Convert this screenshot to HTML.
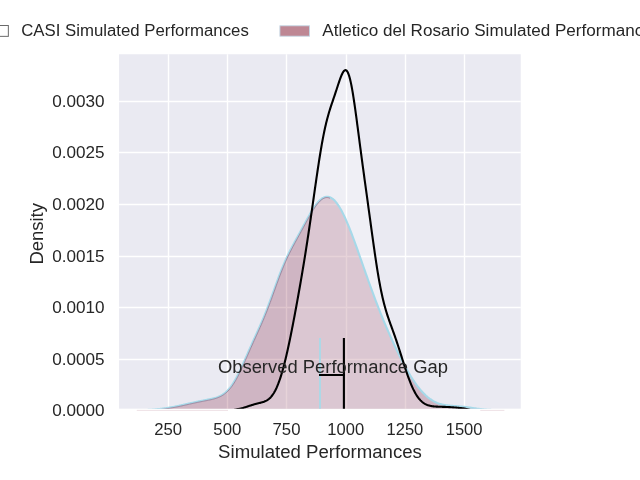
<!DOCTYPE html>
<html lang="en"><head><meta charset="utf-8"><title>Simulated Performances</title>
<style>html,body{margin:0;padding:0;background:#ffffff;}body{width:640px;height:480px;overflow:hidden;font-family:"Liberation Sans",sans-serif;}svg{display:block;will-change:transform;}text{font-family:"Liberation Sans",sans-serif;fill:#262626;}</style></head><body>
<svg width="640" height="480" viewBox="0 0 640 480">
<defs><clipPath id="ax"><rect x="119.06" y="54.25" width="401.69" height="354.40"/></clipPath></defs>
<rect x="0" y="0" width="640" height="480" fill="#ffffff"/>
<rect x="119.06" y="54.25" width="401.69" height="354.40" fill="#eaeaf2"/>
<g clip-path="url(#ax)">
<g stroke="#ffffff" stroke-width="1.4" fill="none"><line x1="168.5" y1="50" x2="168.5" y2="412"/><line x1="227.5" y1="50" x2="227.5" y2="412"/><line x1="286.5" y1="50" x2="286.5" y2="412"/><line x1="346.5" y1="50" x2="346.5" y2="412"/><line x1="405.5" y1="50" x2="405.5" y2="412"/><line x1="464.5" y1="50" x2="464.5" y2="412"/><line x1="115" y1="359.5" x2="525" y2="359.5"/><line x1="115" y1="307.5" x2="525" y2="307.5"/><line x1="115" y1="256.5" x2="525" y2="256.5"/><line x1="115" y1="204.5" x2="525" y2="204.5"/><line x1="115" y1="152.5" x2="525" y2="152.5"/><line x1="115" y1="101.5" x2="525" y2="101.5"/></g>
<path d="M137.02,411.04 L137.76,411.03 L138.50,411.01 L139.24,410.99 L139.97,410.96 L140.71,410.94 L141.45,410.91 L142.19,410.89 L142.92,410.86 L143.66,410.83 L144.40,410.80 L145.14,410.76 L145.87,410.73 L146.61,410.69 L147.35,410.65 L148.09,410.61 L148.83,410.57 L149.57,410.52 L150.30,410.48 L151.04,410.43 L151.78,410.37 L152.52,410.32 L153.26,410.26 L154.00,410.20 L154.74,410.14 L155.48,410.08 L156.21,410.01 L156.95,409.94 L157.69,409.87 L158.43,409.79 L159.17,409.71 L159.91,409.63 L160.65,409.54 L161.39,409.46 L162.13,409.37 L162.87,409.27 L163.61,409.17 L164.35,409.07 L165.09,408.97 L165.83,408.86 L166.57,408.75 L167.31,408.64 L168.05,408.53 L168.79,408.41 L169.53,408.29 L170.26,408.16 L171.00,408.03 L171.74,407.90 L172.48,407.77 L173.22,407.63 L173.96,407.49 L174.70,407.35 L175.44,407.21 L176.18,407.06 L176.91,406.91 L177.65,406.76 L178.39,406.61 L179.13,406.45 L179.87,406.30 L180.60,406.14 L181.34,405.98 L182.08,405.82 L182.82,405.65 L183.55,405.49 L184.29,405.33 L185.03,405.16 L185.76,404.99 L186.50,404.83 L187.23,404.66 L187.97,404.50 L188.70,404.33 L189.44,404.16 L190.17,404.00 L190.91,403.83 L191.64,403.67 L192.38,403.50 L193.11,403.34 L193.85,403.18 L194.58,403.02 L195.31,402.86 L196.05,402.70 L196.78,402.55 L197.51,402.39 L198.25,402.24 L198.98,402.09 L199.71,401.94 L200.45,401.79 L201.18,401.64 L201.92,401.50 L202.65,401.35 L203.38,401.21 L204.12,401.06 L204.85,400.92 L205.59,400.78 L206.33,400.63 L207.06,400.49 L207.80,400.34 L208.54,400.19 L209.28,400.04 L210.02,399.88 L210.76,399.72 L211.51,399.55 L212.25,399.38 L213.00,399.19 L213.75,399.00 L214.50,398.79 L215.25,398.57 L216.00,398.34 L216.76,398.09 L217.51,397.82 L218.27,397.53 L219.03,397.21 L219.79,396.87 L220.55,396.51 L221.32,396.11 L222.08,395.68 L222.85,395.22 L223.61,394.72 L224.37,394.19 L225.14,393.61 L225.90,392.99 L226.66,392.32 L227.42,391.61 L228.18,390.86 L228.94,390.05 L229.69,389.19 L230.45,388.29 L231.20,387.33 L231.95,386.32 L232.70,385.26 L233.45,384.15 L234.19,382.98 L234.94,381.77 L235.68,380.50 L236.43,379.19 L237.17,377.83 L237.91,376.43 L238.65,374.99 L239.39,373.50 L240.13,371.99 L240.87,370.44 L241.61,368.86 L242.35,367.25 L243.08,365.63 L243.82,363.98 L244.56,362.32 L245.29,360.65 L246.03,358.97 L246.77,357.29 L247.50,355.61 L248.24,353.92 L248.97,352.24 L249.71,350.57 L250.44,348.90 L251.18,347.24 L251.91,345.59 L252.65,343.94 L253.38,342.30 L254.12,340.67 L254.85,339.05 L255.59,337.43 L256.32,335.81 L257.06,334.19 L257.79,332.57 L258.53,330.94 L259.27,329.31 L260.00,327.66 L260.74,326.00 L261.48,324.32 L262.21,322.62 L262.95,320.90 L263.69,319.15 L264.43,317.38 L265.16,315.58 L265.90,313.75 L266.64,311.90 L267.38,310.01 L268.11,308.10 L268.85,306.16 L269.59,304.20 L270.32,302.22 L271.06,300.21 L271.80,298.18 L272.53,296.15 L273.27,294.10 L274.00,292.04 L274.74,289.99 L275.47,287.93 L276.21,285.88 L276.94,283.84 L277.68,281.82 L278.41,279.81 L279.15,277.83 L279.88,275.87 L280.62,273.95 L281.35,272.05 L282.08,270.19 L282.81,268.36 L283.55,266.57 L284.28,264.82 L285.01,263.11 L285.74,261.43 L286.48,259.79 L287.21,258.19 L287.94,256.63 L288.67,255.09 L289.40,253.59 L290.14,252.12 L290.87,250.67 L291.60,249.25 L292.33,247.84 L293.07,246.45 L293.80,245.08 L294.53,243.72 L295.27,242.37 L296.00,241.02 L296.74,239.68 L297.47,238.34 L298.21,237.00 L298.95,235.66 L299.68,234.31 L300.42,232.97 L301.15,231.62 L301.89,230.27 L302.62,228.91 L303.36,227.55 L304.10,226.19 L304.83,224.83 L305.57,223.48 L306.30,222.12 L307.04,220.78 L307.77,219.44 L308.50,218.11 L309.24,216.80 L309.97,215.51 L310.70,214.23 L311.43,212.98 L312.16,211.76 L312.89,210.57 L313.62,209.41 L314.35,208.29 L315.07,207.21 L315.80,206.17 L316.52,205.18 L317.24,204.24 L317.96,203.35 L318.67,202.52 L319.38,201.75 L320.09,201.04 L320.79,200.39 L321.49,199.81 L322.18,199.30 L322.85,198.82 L323.49,198.39 L324.14,198.02 L324.79,197.71 L325.44,197.47 L326.10,197.29 L326.77,197.18 L327.45,197.13 L328.14,197.16 L328.85,197.26 L329.57,197.43 L330.30,197.68 L331.05,198.01 L331.80,198.41 L332.57,198.89 L333.34,199.45 L334.11,200.09 L334.84,200.85 L335.58,201.67 L336.31,202.56 L337.05,203.51 L337.78,204.54 L338.52,205.62 L339.25,206.77 L339.99,207.98 L340.73,209.25 L341.46,210.58 L342.20,211.97 L342.93,213.40 L343.67,214.89 L344.40,216.43 L345.14,218.02 L345.87,219.65 L346.61,221.33 L347.34,223.04 L348.08,224.80 L348.82,226.59 L349.55,228.42 L350.29,230.28 L351.02,232.18 L351.76,234.10 L352.49,236.04 L353.23,238.01 L353.96,240.00 L354.70,242.01 L355.43,244.04 L356.17,246.09 L356.91,248.15 L357.64,250.22 L358.38,252.30 L359.11,254.39 L359.85,256.48 L360.58,258.58 L361.32,260.69 L362.05,262.79 L362.79,264.89 L363.53,267.00 L364.26,269.10 L365.00,271.19 L365.73,273.28 L366.47,275.37 L367.20,277.44 L367.94,279.51 L368.67,281.57 L369.41,283.62 L370.14,285.66 L370.88,287.69 L371.62,289.70 L372.35,291.70 L373.09,293.69 L373.82,295.67 L374.56,297.63 L375.29,299.58 L376.03,301.51 L376.76,303.43 L377.50,305.34 L378.23,307.23 L378.97,309.10 L379.71,310.96 L380.44,312.81 L381.18,314.64 L381.91,316.46 L382.65,318.26 L383.38,320.05 L384.12,321.82 L384.85,323.58 L385.59,325.32 L386.32,327.06 L387.06,328.77 L387.80,330.48 L388.53,332.17 L389.27,333.84 L390.00,335.51 L390.74,337.16 L391.47,338.79 L392.21,340.42 L392.94,342.02 L393.68,343.62 L394.41,345.20 L395.15,346.77 L395.89,348.32 L396.62,349.86 L397.36,351.39 L398.09,352.90 L398.83,354.40 L399.56,355.88 L400.30,357.34 L401.03,358.79 L401.77,360.22 L402.51,361.64 L403.24,363.04 L403.98,364.42 L404.71,365.79 L405.45,367.13 L406.18,368.46 L406.92,369.77 L407.65,371.06 L408.39,372.33 L409.12,373.57 L409.86,374.80 L410.60,376.01 L411.33,377.19 L412.07,378.35 L412.80,379.49 L413.54,380.61 L414.27,381.70 L415.01,382.76 L415.74,383.81 L416.48,384.83 L417.21,385.82 L417.95,386.79 L418.69,387.73 L419.42,388.65 L420.16,389.54 L420.89,390.41 L421.63,391.24 L422.36,392.06 L423.10,392.84 L423.83,393.60 L424.57,394.33 L425.30,395.04 L426.04,395.72 L426.78,396.37 L427.51,397.00 L428.25,397.60 L428.98,398.17 L429.72,398.72 L430.45,399.25 L431.19,399.74 L431.92,400.22 L432.66,400.66 L433.39,401.09 L434.13,401.49 L434.87,401.86 L435.60,402.22 L436.34,402.55 L437.07,402.86 L437.81,403.15 L438.54,403.42 L439.28,403.67 L440.01,403.91 L440.75,404.12 L441.48,404.32 L442.22,404.50 L442.96,404.67 L443.69,404.82 L444.43,404.96 L445.16,405.08 L445.90,405.20 L446.63,405.30 L447.37,405.40 L448.10,405.49 L448.84,405.57 L449.58,405.64 L450.31,405.71 L451.05,405.77 L451.78,405.83 L452.52,405.88 L453.25,405.94 L453.99,405.99 L454.72,406.04 L455.46,406.09 L456.19,406.14 L456.93,406.20 L457.67,406.25 L458.40,406.31 L459.14,406.37 L459.87,406.43 L460.61,406.50 L461.34,406.57 L462.08,406.64 L462.81,406.71 L463.55,406.79 L464.28,406.88 L465.02,406.96 L465.76,407.05 L466.49,407.14 L467.23,407.24 L467.96,407.34 L468.70,407.44 L469.43,407.54 L470.17,407.64 L470.90,407.74 L471.64,407.85 L472.37,407.96 L473.11,408.06 L473.85,408.17 L474.58,408.27 L475.32,408.37 L476.05,408.47 L476.79,408.58 L477.52,408.67 L478.26,408.77 L478.99,408.86 L479.73,408.95 L480.46,409.04 L481.20,409.12 L481.94,409.21 L482.67,409.28 L483.41,409.36 L484.14,409.43 L484.88,409.50 L485.61,409.56 L486.35,409.62 L487.08,409.68 L487.82,409.73 L488.56,409.78 L489.29,409.83 L490.03,409.87 L490.76,409.91 L491.50,409.95 L492.23,409.98 L492.97,410.01 L493.70,410.04 L494.44,410.07 L495.17,410.09 L495.91,410.12 L496.65,410.14 L497.38,410.15 L498.12,410.17 L498.85,410.19 L499.59,410.20 L500.32,410.21 L501.06,410.22 L501.79,410.23 L502.53,410.24 L503.26,410.25 L504.00,410.25 L504.00,410.30 L137.02,410.30 Z" fill="rgb(126,22,54)" fill-opacity="0.25" stroke="none"/>
<path d="M228.00,410.30 L228.49,410.30 L228.97,410.29 L229.46,410.29 L229.94,410.27 L230.43,410.26 L230.92,410.23 L231.40,410.20 L231.89,410.16 L232.38,410.12 L232.86,410.07 L233.35,410.00 L233.83,409.93 L234.32,409.85 L234.81,409.77 L235.29,409.67 L235.78,409.57 L236.26,409.47 L236.75,409.36 L237.24,409.25 L237.72,409.15 L238.21,409.06 L238.70,408.96 L239.18,408.86 L239.67,408.76 L240.15,408.65 L240.64,408.53 L241.13,408.41 L241.61,408.29 L242.10,408.16 L242.59,408.03 L243.07,407.89 L243.56,407.75 L244.04,407.60 L244.53,407.46 L245.02,407.30 L245.50,407.15 L245.99,406.99 L246.47,406.84 L246.96,406.68 L247.45,406.52 L247.93,406.35 L248.42,406.19 L248.91,406.03 L249.39,405.87 L249.88,405.71 L250.36,405.55 L250.85,405.39 L251.34,405.23 L251.82,405.08 L252.31,404.92 L252.79,404.78 L253.28,404.63 L253.77,404.49 L254.25,404.35 L254.74,404.21 L255.23,404.08 L255.71,403.95 L256.20,403.82 L256.68,403.70 L257.17,403.57 L257.66,403.45 L258.14,403.34 L258.63,403.22 L259.12,403.10 L259.60,402.98 L260.09,402.86 L260.57,402.74 L261.06,402.61 L261.55,402.48 L262.03,402.35 L262.52,402.21 L263.00,402.05 L263.49,401.89 L263.98,401.72 L264.46,401.53 L264.95,401.33 L265.44,401.12 L265.92,400.88 L266.41,400.63 L266.89,400.35 L267.38,400.05 L267.87,399.73 L268.35,399.38 L268.84,399.00 L269.32,398.59 L269.81,398.15 L270.30,397.67 L270.78,397.16 L271.27,396.61 L271.76,396.02 L272.24,395.39 L272.73,394.72 L273.21,394.01 L273.70,393.25 L274.19,392.44 L274.67,391.59 L275.16,390.69 L275.64,389.74 L276.13,388.74 L276.62,387.69 L277.10,386.58 L277.59,385.42 L278.08,384.22 L278.56,382.95 L279.05,381.64 L279.53,380.27 L280.02,378.85 L280.51,377.37 L280.99,375.84 L281.48,374.26 L281.97,372.63 L282.45,370.94 L282.94,369.21 L283.42,367.42 L283.91,365.59 L284.40,363.70 L284.88,361.77 L285.37,359.80 L285.85,357.78 L286.34,355.72 L286.83,353.61 L287.31,351.47 L287.80,349.29 L288.29,347.07 L288.77,344.82 L289.26,342.53 L289.74,340.21 L290.23,337.85 L290.72,335.47 L291.20,333.06 L291.69,330.63 L292.17,328.16 L292.66,325.68 L293.15,323.17 L293.63,320.64 L294.12,318.09 L294.61,315.52 L295.09,312.92 L295.58,310.31 L296.06,307.69 L296.55,305.04 L297.04,302.38 L297.52,299.69 L298.01,296.99 L298.49,294.28 L298.98,291.54 L299.47,288.79 L299.95,286.02 L300.44,283.22 L300.93,280.41 L301.41,277.58 L301.90,274.72 L302.38,271.84 L302.87,268.94 L303.36,266.01 L303.84,263.06 L304.33,260.08 L304.82,257.07 L305.30,254.04 L305.79,250.98 L306.27,247.89 L306.76,244.77 L307.25,241.62 L307.73,238.44 L308.22,235.24 L308.70,232.01 L309.19,228.74 L309.68,225.46 L310.16,222.15 L310.65,218.81 L311.14,215.46 L311.62,212.09 L312.11,208.70 L312.59,205.30 L313.08,201.89 L313.57,198.48 L314.05,195.07 L314.54,191.65 L315.02,188.25 L315.51,184.86 L316.00,181.48 L316.48,178.13 L316.97,174.81 L317.46,171.51 L317.94,168.26 L318.43,165.05 L318.91,161.88 L319.40,158.77 L319.89,155.72 L320.37,152.74 L320.86,149.81 L321.35,146.96 L321.83,144.19 L322.32,141.49 L322.80,138.87 L323.29,136.34 L323.78,133.88 L324.26,131.52 L324.75,129.23 L325.23,127.03 L325.72,124.91 L326.21,122.87 L326.69,120.90 L327.18,119.01 L327.67,117.19 L328.15,115.43 L328.64,113.73 L329.12,112.08 L329.61,110.49 L330.10,108.93 L330.58,107.41 L331.07,105.92 L331.55,104.45 L332.04,103.00 L332.53,101.56 L333.01,100.13 L333.50,98.69 L333.99,97.25 L334.47,95.81 L334.96,94.36 L335.44,92.90 L335.93,91.43 L336.42,89.96 L336.90,88.47 L337.39,86.99 L337.87,85.51 L338.36,84.03 L338.85,82.58 L339.33,81.15 L339.82,79.75 L340.31,78.40 L340.79,77.11 L341.28,75.88 L341.76,74.74 L342.25,73.70 L342.74,72.76 L343.22,71.94 L343.71,71.26 L344.20,70.73 L344.68,70.36 L345.17,70.16 L345.65,70.14 L346.14,70.31 L346.63,70.68 L347.11,71.25 L347.60,72.03 L348.08,73.03 L348.57,74.23 L349.06,75.65 L349.54,77.28 L350.03,79.11 L350.52,81.14 L351.00,83.37 L351.49,85.78 L351.97,88.37 L352.46,91.12 L352.95,94.02 L353.43,97.06 L353.92,100.22 L354.40,103.50 L354.89,106.88 L355.38,110.34 L355.86,113.87 L356.35,117.46 L356.84,121.10 L357.32,124.77 L357.81,128.47 L358.29,132.18 L358.78,135.90 L359.27,139.62 L359.75,143.33 L360.24,147.03 L360.73,150.72 L361.21,154.38 L361.70,158.03 L362.18,161.66 L362.67,165.27 L363.16,168.86 L363.64,172.43 L364.13,175.99 L364.61,179.54 L365.10,183.07 L365.59,186.60 L366.07,190.13 L366.56,193.65 L367.05,197.18 L367.53,200.71 L368.02,204.24 L368.50,207.78 L368.99,211.32 L369.48,214.86 L369.96,218.41 L370.45,221.96 L370.93,225.50 L371.42,229.04 L371.91,232.57 L372.39,236.09 L372.88,239.59 L373.37,243.06 L373.85,246.50 L374.34,249.91 L374.82,253.28 L375.31,256.60 L375.80,259.86 L376.28,263.07 L376.77,266.22 L377.25,269.29 L377.74,272.30 L378.23,275.22 L378.71,278.07 L379.20,280.83 L379.69,283.51 L380.17,286.10 L380.66,288.60 L381.14,291.01 L381.63,293.34 L382.12,295.58 L382.60,297.74 L383.09,299.81 L383.58,301.80 L384.06,303.72 L384.55,305.56 L385.03,307.34 L385.52,309.05 L386.01,310.71 L386.49,312.31 L386.98,313.86 L387.46,315.37 L387.95,316.84 L388.44,318.28 L388.92,319.68 L389.41,321.07 L389.90,322.43 L390.38,323.79 L390.87,325.13 L391.35,326.47 L391.84,327.80 L392.33,329.14 L392.81,330.48 L393.30,331.83 L393.78,333.19 L394.27,334.56 L394.76,335.94 L395.24,337.33 L395.73,338.75 L396.22,340.17 L396.70,341.61 L397.19,343.07 L397.67,344.54 L398.16,346.02 L398.65,347.52 L399.13,349.02 L399.62,350.54 L400.11,352.07 L400.59,353.60 L401.08,355.14 L401.56,356.68 L402.05,358.22 L402.54,359.76 L403.02,361.30 L403.51,362.83 L403.99,364.35 L404.48,365.86 L404.97,367.36 L405.45,368.85 L405.94,370.31 L406.43,371.76 L406.91,373.19 L407.40,374.59 L407.88,375.98 L408.37,377.33 L408.86,378.66 L409.34,379.95 L409.83,381.22 L410.31,382.46 L410.80,383.66 L411.29,384.83 L411.77,385.96 L412.26,387.07 L412.75,388.13 L413.23,389.16 L413.72,390.15 L414.20,391.11 L414.69,392.03 L415.18,392.92 L415.66,393.77 L416.15,394.58 L416.63,395.36 L417.12,396.10 L417.61,396.81 L418.09,397.49 L418.58,398.13 L419.07,398.74 L419.55,399.31 L420.04,399.86 L420.52,400.38 L421.01,400.86 L421.50,401.32 L421.98,401.75 L422.47,402.16 L422.96,402.54 L423.44,402.89 L423.93,403.23 L424.41,403.54 L424.90,403.82 L425.39,404.09 L425.87,404.34 L426.36,404.57 L426.84,404.78 L427.33,404.98 L427.82,405.15 L428.30,405.32 L428.79,405.47 L429.28,405.61 L429.76,405.74 L430.25,405.85 L430.73,405.95 L431.22,406.05 L431.71,406.13 L432.19,406.21 L432.68,406.28 L433.16,406.34 L433.65,406.40 L434.14,406.45 L434.62,406.49 L435.11,406.53 L435.60,406.57 L436.08,406.60 L436.57,406.63 L437.05,406.65 L437.54,406.67 L438.03,406.69 L438.51,406.71 L439.00,406.73 L439.48,406.75 L439.97,406.76 L440.46,406.78 L440.94,406.79 L441.43,406.80 L441.92,406.82 L442.40,406.83 L442.89,406.84 L443.37,406.86 L443.86,406.87 L444.35,406.89 L444.83,406.91 L445.32,406.92 L445.81,406.94 L446.29,406.96 L446.78,406.98 L447.26,407.00 L447.75,407.03 L448.24,407.05 L448.72,407.08 L449.21,407.10 L449.69,407.13 L450.18,407.16 L450.67,407.19 L451.15,407.22 L451.64,407.26 L452.13,407.29 L452.61,407.33 L453.10,407.36 L453.58,407.40 L454.07,407.44 L454.56,407.48 L455.04,407.52 L455.53,407.56 L456.01,407.61 L456.50,407.65 L456.99,407.70 L457.47,407.74 L457.96,407.79 L458.45,407.83 L458.93,407.88 L459.42,407.93 L459.90,407.98 L460.39,408.02 L460.88,408.07 L461.36,408.12 L461.85,408.18 L462.34,408.24 L462.82,408.30 L463.31,408.37 L463.79,408.45 L464.28,408.53 L464.77,408.61 L465.25,408.71 L465.74,408.81 L466.22,408.91 L466.71,409.03 L467.20,409.15 L467.68,409.28 L468.17,409.41 L468.66,409.55 L469.14,409.70 L469.63,409.85 L470.11,410.01 L470.60,410.17 L470.60,410.30 L228.00,410.30 Z" fill="#ffffff" fill-opacity="0.25" stroke="none"/>
<path d="M137.01,410.35 L137.74,410.33 L138.48,410.31 L139.22,410.29 L139.95,410.26 L140.69,410.24 L141.42,410.21 L142.16,410.19 L142.90,410.16 L143.63,410.13 L144.37,410.10 L145.10,410.06 L145.84,410.03 L146.58,409.99 L147.31,409.95 L148.05,409.91 L148.79,409.87 L149.52,409.82 L150.26,409.78 L150.99,409.73 L151.73,409.68 L152.47,409.62 L153.20,409.57 L153.94,409.51 L154.68,409.44 L155.41,409.38 L156.15,409.31 L156.89,409.24 L157.62,409.17 L158.36,409.09 L159.10,409.02 L159.83,408.93 L160.57,408.85 L161.31,408.76 L162.04,408.67 L162.78,408.58 L163.52,408.48 L164.25,408.38 L164.99,408.28 L165.73,408.17 L166.46,408.06 L167.20,407.95 L167.94,407.84 L168.67,407.72 L169.41,407.60 L170.15,407.47 L170.88,407.34 L171.62,407.21 L172.36,407.08 L173.09,406.94 L173.83,406.81 L174.57,406.66 L175.30,406.52 L176.04,406.37 L176.78,406.23 L177.51,406.08 L178.25,405.92 L178.98,405.77 L179.72,405.61 L180.46,405.45 L181.19,405.29 L181.93,405.13 L182.66,404.97 L183.40,404.81 L184.14,404.64 L184.87,404.48 L185.61,404.31 L186.34,404.15 L187.08,403.98 L187.81,403.81 L188.55,403.65 L189.28,403.48 L190.02,403.31 L190.76,403.15 L191.49,402.98 L192.23,402.82 L192.96,402.66 L193.70,402.50 L194.43,402.34 L195.17,402.18 L195.90,402.02 L196.64,401.86 L197.37,401.71 L198.11,401.55 L198.84,401.40 L199.57,401.25 L200.31,401.10 L201.04,400.96 L201.78,400.81 L202.51,400.66 L203.25,400.52 L203.99,400.38 L204.72,400.23 L205.46,400.09 L206.19,399.95 L206.93,399.80 L207.66,399.65 L208.40,399.51 L209.14,399.35 L209.87,399.20 L210.61,399.04 L211.35,398.87 L212.09,398.69 L212.83,398.51 L213.57,398.32 L214.31,398.12 L215.05,397.90 L215.79,397.67 L216.53,397.42 L217.27,397.16 L218.01,396.88 L218.76,396.57 L219.50,396.24 L220.24,395.88 L220.99,395.49 L221.73,395.08 L222.47,394.63 L223.22,394.14 L223.96,393.62 L224.71,393.06 L225.45,392.45 L226.19,391.80 L226.94,391.11 L227.68,390.37 L228.42,389.58 L229.16,388.74 L229.90,387.85 L230.64,386.91 L231.38,385.91 L232.12,384.86 L232.86,383.76 L233.60,382.61 L234.34,381.41 L235.08,380.15 L235.82,378.85 L236.55,377.50 L237.29,376.11 L238.03,374.67 L238.76,373.20 L239.50,371.68 L240.24,370.14 L240.97,368.56 L241.71,366.96 L242.45,365.34 L243.18,363.70 L243.92,362.04 L244.65,360.37 L245.39,358.69 L246.12,357.01 L246.86,355.33 L247.60,353.64 L248.33,351.96 L249.07,350.29 L249.80,348.62 L250.54,346.95 L251.27,345.30 L252.01,343.65 L252.74,342.02 L253.48,340.39 L254.21,338.76 L254.95,337.14 L255.68,335.52 L256.42,333.90 L257.16,332.28 L257.89,330.65 L258.63,329.02 L259.36,327.37 L260.10,325.71 L260.83,324.04 L261.57,322.34 L262.31,320.62 L263.04,318.88 L263.78,317.11 L264.51,315.32 L265.25,313.49 L265.99,311.64 L266.72,309.76 L267.46,307.85 L268.19,305.92 L268.93,303.96 L269.67,301.97 L270.40,299.97 L271.14,297.95 L271.87,295.91 L272.61,293.86 L273.34,291.81 L274.08,289.75 L274.82,287.69 L275.55,285.64 L276.29,283.60 L277.02,281.58 L277.76,279.57 L278.49,277.59 L279.23,275.63 L279.96,273.69 L280.70,271.79 L281.43,269.93 L282.17,268.10 L282.90,266.30 L283.64,264.55 L284.37,262.83 L285.10,261.15 L285.84,259.50 L286.57,257.90 L287.31,256.33 L288.04,254.79 L288.78,253.28 L289.51,251.80 L290.25,250.35 L290.98,248.92 L291.71,247.52 L292.45,246.13 L293.18,244.75 L293.92,243.39 L294.65,242.03 L295.39,240.69 L296.12,239.34 L296.86,238.00 L297.60,236.66 L298.33,235.32 L299.07,233.98 L299.80,232.63 L300.54,231.28 L301.27,229.93 L302.01,228.58 L302.74,227.22 L303.48,225.86 L304.22,224.50 L304.95,223.14 L305.69,221.79 L306.42,220.44 L307.16,219.10 L307.89,217.77 L308.63,216.46 L309.36,215.16 L310.10,213.88 L310.83,212.63 L311.56,211.40 L312.30,210.20 L313.03,209.03 L313.76,207.90 L314.50,206.81 L315.23,205.76 L315.96,204.76 L316.69,203.81 L317.42,202.90 L318.15,202.06 L318.88,201.27 L319.61,200.54 L320.33,199.87 L321.05,199.26 L321.78,198.72 L322.49,198.24 L323.20,197.82 L323.91,197.47 L324.62,197.19 L325.33,196.97 L326.04,196.83 L326.76,196.76 L327.47,196.76 L328.20,196.83 L328.92,196.97 L329.66,197.20 L330.39,197.49 L331.13,197.86 L331.87,198.31 L332.61,198.83 L333.36,199.42 L334.11,200.09 L334.84,200.85 L335.58,201.67 L336.31,202.56 L337.05,203.51 L337.78,204.54 L338.52,205.62 L339.25,206.77 L339.99,207.98 L340.73,209.25 L341.46,210.58 L342.20,211.97 L342.93,213.40 L343.67,214.89 L344.40,216.43 L345.14,218.02 L345.87,219.65 L346.61,221.33 L347.34,223.04 L348.08,224.80 L348.82,226.59 L349.55,228.42 L350.29,230.28 L351.02,232.18 L351.76,234.10 L352.49,236.04 L353.23,238.01 L353.96,240.00 L354.70,242.01 L355.43,244.04 L356.17,246.09 L356.91,248.15 L357.64,250.22 L358.38,252.30 L359.11,254.39 L359.85,256.48 L360.58,258.58 L361.32,260.69 L362.05,262.79 L362.79,264.89 L363.53,267.00 L364.26,269.10 L365.00,271.19 L365.73,273.28 L366.47,275.37 L367.20,277.44 L367.94,279.51 L368.67,281.57 L369.41,283.62 L370.14,285.66 L370.88,287.69 L371.62,289.70 L372.35,291.70 L373.09,293.69 L373.82,295.67 L374.56,297.63 L375.29,299.58 L376.03,301.51 L376.76,303.43 L377.50,305.34 L378.23,307.23 L378.97,309.10 L379.71,310.96 L380.44,312.81 L381.18,314.64 L381.91,316.46 L382.65,318.26 L383.38,320.05 L384.12,321.82 L384.85,323.58 L385.59,325.32 L386.32,327.06 L387.06,328.77 L387.80,330.48 L388.53,332.17 L389.27,333.84 L390.00,335.51 L390.74,337.16 L391.47,338.79 L392.21,340.42 L392.94,342.02 L393.68,343.62 L394.41,345.20 L395.15,346.77 L395.89,348.32 L396.62,349.86 L397.36,351.39 L398.09,352.90 L398.83,354.40 L399.56,355.88 L400.30,357.34 L401.03,358.79 L401.77,360.22 L402.51,361.64 L403.24,363.04 L403.98,364.42 L404.71,365.79 L405.45,367.13 L406.18,368.46 L406.92,369.77 L407.65,371.06 L408.39,372.33 L409.12,373.57 L409.86,374.80 L410.60,376.01 L411.33,377.19 L412.07,378.35 L412.80,379.49 L413.54,380.61 L414.27,381.70 L415.01,382.76 L415.74,383.81 L416.48,384.83 L417.21,385.82 L417.95,386.79 L418.69,387.73 L419.42,388.65 L420.16,389.54 L420.89,390.41 L421.63,391.24 L422.36,392.06 L423.10,392.84 L423.83,393.60 L424.57,394.33 L425.30,395.04 L426.04,395.72 L426.78,396.37 L427.51,397.00 L428.25,397.60 L428.98,398.17 L429.72,398.72 L430.45,399.25 L431.19,399.74 L431.92,400.22 L432.66,400.66 L433.39,401.09 L434.13,401.49 L434.87,401.86 L435.60,402.22 L436.34,402.55 L437.07,402.86 L437.81,403.15 L438.54,403.42 L439.28,403.67 L440.01,403.91 L440.75,404.12 L441.48,404.32 L442.22,404.50 L442.96,404.67 L443.69,404.82 L444.43,404.96 L445.16,405.08 L445.90,405.20 L446.63,405.30 L447.37,405.40 L448.10,405.49 L448.84,405.57 L449.58,405.64 L450.31,405.71 L451.05,405.77 L451.78,405.83 L452.52,405.88 L453.25,405.94 L453.99,405.99 L454.72,406.04 L455.46,406.09 L456.19,406.14 L456.93,406.20 L457.67,406.25 L458.40,406.31 L459.14,406.37 L459.87,406.43 L460.61,406.50 L461.34,406.57 L462.08,406.64 L462.81,406.71 L463.55,406.79 L464.28,406.88 L465.02,406.96 L465.76,407.05 L466.49,407.14 L467.23,407.24 L467.96,407.34 L468.70,407.44 L469.43,407.54 L470.17,407.64 L470.90,407.74 L471.64,407.85 L472.37,407.96 L473.11,408.06 L473.85,408.17 L474.58,408.27 L475.32,408.37 L476.05,408.47 L476.79,408.58 L477.52,408.67 L478.26,408.77 L478.99,408.86 L479.73,408.95 L480.46,409.04 L481.20,409.12 L481.94,409.21 L482.67,409.28 L483.41,409.36 L484.14,409.43 L484.88,409.50 L485.61,409.56 L486.35,409.62 L487.08,409.68 L487.82,409.73 L488.56,409.78 L489.29,409.83 L490.03,409.87 L490.76,409.91 L491.50,409.95 L492.23,409.98 L492.97,410.01 L493.70,410.04 L494.44,410.07 L495.17,410.09 L495.91,410.12 L496.65,410.14 L497.38,410.15 L498.12,410.17 L498.85,410.19 L499.59,410.20 L500.32,410.21 L501.06,410.22 L501.79,410.23 L502.53,410.24 L503.26,410.25 L504.00,410.25" fill="none" stroke="#a6d9e9" stroke-width="2.1" stroke-linejoin="round"/>
<path d="M137.02,411.04 L137.76,411.03 L138.50,411.01 L139.24,410.99 L139.97,410.96 L140.71,410.94 L141.45,410.91 L142.19,410.89 L142.92,410.86 L143.66,410.83 L144.40,410.80 L145.14,410.76 L145.87,410.73 L146.61,410.69 L147.35,410.65 L148.09,410.61 L148.83,410.57 L149.57,410.52 L150.30,410.48 L151.04,410.43 L151.78,410.37 L152.52,410.32 L153.26,410.26 L154.00,410.20 L154.74,410.14 L155.48,410.08 L156.21,410.01 L156.95,409.94 L157.69,409.87 L158.43,409.79 L159.17,409.71 L159.91,409.63 L160.65,409.54 L161.39,409.46 L162.13,409.37 L162.87,409.27 L163.61,409.17 L164.35,409.07 L165.09,408.97 L165.83,408.86 L166.57,408.75 L167.31,408.64 L168.05,408.53 L168.79,408.41 L169.53,408.29 L170.26,408.16 L171.00,408.03 L171.74,407.90 L172.48,407.77 L173.22,407.63 L173.96,407.49 L174.70,407.35 L175.44,407.21 L176.18,407.06 L176.91,406.91 L177.65,406.76 L178.39,406.61 L179.13,406.45 L179.87,406.30 L180.60,406.14 L181.34,405.98 L182.08,405.82 L182.82,405.65 L183.55,405.49 L184.29,405.33 L185.03,405.16 L185.76,404.99 L186.50,404.83 L187.23,404.66 L187.97,404.50 L188.70,404.33 L189.44,404.16 L190.17,404.00 L190.91,403.83 L191.64,403.67 L192.38,403.50 L193.11,403.34 L193.85,403.18 L194.58,403.02 L195.31,402.86 L196.05,402.70 L196.78,402.55 L197.51,402.39 L198.25,402.24 L198.98,402.09 L199.71,401.94 L200.45,401.79 L201.18,401.64 L201.92,401.50 L202.65,401.35 L203.38,401.21 L204.12,401.06 L204.85,400.92 L205.59,400.78 L206.33,400.63 L207.06,400.49 L207.80,400.34 L208.54,400.19 L209.28,400.04 L210.02,399.88 L210.76,399.72 L211.51,399.55 L212.25,399.38 L213.00,399.19 L213.75,399.00 L214.50,398.79 L215.25,398.57 L216.00,398.34 L216.76,398.09 L217.51,397.82 L218.27,397.53 L219.03,397.21 L219.79,396.87 L220.55,396.51 L221.32,396.11 L222.08,395.68 L222.85,395.22 L223.61,394.72 L224.37,394.19 L225.14,393.61 L225.90,392.99 L226.66,392.32 L227.42,391.61 L228.18,390.86 L228.94,390.05 L229.69,389.19 L230.45,388.29 L231.20,387.33 L231.95,386.32 L232.70,385.26 L233.45,384.15 L234.19,382.98 L234.94,381.77 L235.68,380.50 L236.43,379.19 L237.17,377.83 L237.91,376.43 L238.65,374.99 L239.39,373.50 L240.13,371.99 L240.87,370.44 L241.61,368.86 L242.35,367.25 L243.08,365.63 L243.82,363.98 L244.56,362.32 L245.29,360.65 L246.03,358.97 L246.77,357.29 L247.50,355.61 L248.24,353.92 L248.97,352.24 L249.71,350.57 L250.44,348.90 L251.18,347.24 L251.91,345.59 L252.65,343.94 L253.38,342.30 L254.12,340.67 L254.85,339.05 L255.59,337.43 L256.32,335.81 L257.06,334.19 L257.79,332.57 L258.53,330.94 L259.27,329.31 L260.00,327.66 L260.74,326.00 L261.48,324.32 L262.21,322.62 L262.95,320.90 L263.69,319.15 L264.43,317.38 L265.16,315.58 L265.90,313.75 L266.64,311.90 L267.38,310.01 L268.11,308.10 L268.85,306.16 L269.59,304.20 L270.32,302.22 L271.06,300.21 L271.80,298.18 L272.53,296.15 L273.27,294.10 L274.00,292.04 L274.74,289.99 L275.47,287.93 L276.21,285.88 L276.94,283.84 L277.68,281.82 L278.41,279.81 L279.15,277.83 L279.88,275.87 L280.62,273.95 L281.35,272.05 L282.08,270.19 L282.81,268.36 L283.55,266.57 L284.28,264.82 L285.01,263.11 L285.74,261.43 L286.48,259.79 L287.21,258.19 L287.94,256.63 L288.67,255.09 L289.40,253.59 L290.14,252.12 L290.87,250.67 L291.60,249.25 L292.33,247.84 L293.07,246.45 L293.80,245.08 L294.53,243.72 L295.27,242.37 L296.00,241.02 L296.74,239.68 L297.47,238.34 L298.21,237.00 L298.95,235.66 L299.68,234.31 L300.42,232.97 L301.15,231.62 L301.89,230.27 L302.62,228.91 L303.36,227.55 L304.10,226.19 L304.83,224.83 L305.57,223.48 L306.30,222.12 L307.04,220.78 L307.77,219.44 L308.50,218.11 L309.24,216.80 L309.97,215.51 L310.70,214.23 L311.43,212.98 L312.16,211.76 L312.89,210.57 L313.62,209.41 L314.35,208.29 L315.07,207.21 L315.80,206.17 L316.52,205.18 L317.24,204.24 L317.96,203.35 L318.67,202.52 L319.38,201.75 L320.09,201.04 L320.79,200.39 L321.49,199.81 L322.18,199.30 L322.86,198.85 L323.53,198.47 L324.20,198.16 L324.85,197.91 L325.50,197.73 L326.14,197.62 L326.78,197.57 L327.41,197.59 L328.05,197.67 L328.69,197.82 L329.34,198.03 L330.00,198.31" fill="none" stroke="rgb(150,60,90)" stroke-opacity="0.8" stroke-width="0.65" stroke-linejoin="round"/>
<path d="M228.00,410.30 L228.49,410.30 L228.97,410.29 L229.46,410.29 L229.94,410.27 L230.43,410.26 L230.92,410.23 L231.40,410.20 L231.89,410.16 L232.38,410.12 L232.86,410.07 L233.35,410.00 L233.83,409.93 L234.32,409.85 L234.81,409.77 L235.29,409.67 L235.78,409.57 L236.26,409.47 L236.75,409.36 L237.24,409.25 L237.72,409.15 L238.21,409.06 L238.70,408.96 L239.18,408.86 L239.67,408.76 L240.15,408.65 L240.64,408.53 L241.13,408.41 L241.61,408.29 L242.10,408.16 L242.59,408.03 L243.07,407.89 L243.56,407.75 L244.04,407.60 L244.53,407.46 L245.02,407.30 L245.50,407.15 L245.99,406.99 L246.47,406.84 L246.96,406.68 L247.45,406.52 L247.93,406.35 L248.42,406.19 L248.91,406.03 L249.39,405.87 L249.88,405.71 L250.36,405.55 L250.85,405.39 L251.34,405.23 L251.82,405.08 L252.31,404.92 L252.79,404.78 L253.28,404.63 L253.77,404.49 L254.25,404.35 L254.74,404.21 L255.23,404.08 L255.71,403.95 L256.20,403.82 L256.68,403.70 L257.17,403.57 L257.66,403.45 L258.14,403.34 L258.63,403.22 L259.12,403.10 L259.60,402.98 L260.09,402.86 L260.57,402.74 L261.06,402.61 L261.55,402.48 L262.03,402.35 L262.52,402.21 L263.00,402.05 L263.49,401.89 L263.98,401.72 L264.46,401.53 L264.95,401.33 L265.44,401.12 L265.92,400.88 L266.41,400.63 L266.89,400.35 L267.38,400.05 L267.87,399.73 L268.35,399.38 L268.84,399.00 L269.32,398.59 L269.81,398.15 L270.30,397.67 L270.78,397.16 L271.27,396.61 L271.76,396.02 L272.24,395.39 L272.73,394.72 L273.21,394.01 L273.70,393.25 L274.19,392.44 L274.67,391.59 L275.16,390.69 L275.64,389.74 L276.13,388.74 L276.62,387.69 L277.10,386.58 L277.59,385.42 L278.08,384.22 L278.56,382.95 L279.05,381.64 L279.53,380.27 L280.02,378.85 L280.51,377.37 L280.99,375.84 L281.48,374.26 L281.97,372.63 L282.45,370.94 L282.94,369.21 L283.42,367.42 L283.91,365.59 L284.40,363.70 L284.88,361.77 L285.37,359.80 L285.85,357.78 L286.34,355.72 L286.83,353.61 L287.31,351.47 L287.80,349.29 L288.29,347.07 L288.77,344.82 L289.26,342.53 L289.74,340.21 L290.23,337.85 L290.72,335.47 L291.20,333.06 L291.69,330.63 L292.17,328.16 L292.66,325.68 L293.15,323.17 L293.63,320.64 L294.12,318.09 L294.61,315.52 L295.09,312.92 L295.58,310.31 L296.06,307.69 L296.55,305.04 L297.04,302.38 L297.52,299.69 L298.01,296.99 L298.49,294.28 L298.98,291.54 L299.47,288.79 L299.95,286.02 L300.44,283.22 L300.93,280.41 L301.41,277.58 L301.90,274.72 L302.38,271.84 L302.87,268.94 L303.36,266.01 L303.84,263.06 L304.33,260.08 L304.82,257.07 L305.30,254.04 L305.79,250.98 L306.27,247.89 L306.76,244.77 L307.25,241.62 L307.73,238.44 L308.22,235.24 L308.70,232.01 L309.19,228.74 L309.68,225.46 L310.16,222.15 L310.65,218.81 L311.14,215.46 L311.62,212.09 L312.11,208.70 L312.59,205.30 L313.08,201.89 L313.57,198.48 L314.05,195.07 L314.54,191.65 L315.02,188.25 L315.51,184.86 L316.00,181.48 L316.48,178.13 L316.97,174.81 L317.46,171.51 L317.94,168.26 L318.43,165.05 L318.91,161.88 L319.40,158.77 L319.89,155.72 L320.37,152.74 L320.86,149.81 L321.35,146.96 L321.83,144.19 L322.32,141.49 L322.80,138.87 L323.29,136.34 L323.78,133.88 L324.26,131.52 L324.75,129.23 L325.23,127.03 L325.72,124.91 L326.21,122.87 L326.69,120.90 L327.18,119.01 L327.67,117.19 L328.15,115.43 L328.64,113.73 L329.12,112.08 L329.61,110.49 L330.10,108.93 L330.58,107.41 L331.07,105.92 L331.55,104.45 L332.04,103.00 L332.53,101.56 L333.01,100.13 L333.50,98.69 L333.99,97.25 L334.47,95.81 L334.96,94.36 L335.44,92.90 L335.93,91.43 L336.42,89.96 L336.90,88.47 L337.39,86.99 L337.87,85.51 L338.36,84.03 L338.85,82.58 L339.33,81.15 L339.82,79.75 L340.31,78.40 L340.79,77.11 L341.28,75.88 L341.76,74.74 L342.25,73.70 L342.74,72.76 L343.22,71.94 L343.71,71.26 L344.20,70.73 L344.68,70.36 L345.17,70.16 L345.65,70.14 L346.14,70.31 L346.63,70.68 L347.11,71.25 L347.60,72.03 L348.08,73.03 L348.57,74.23 L349.06,75.65 L349.54,77.28 L350.03,79.11 L350.52,81.14 L351.00,83.37 L351.49,85.78 L351.97,88.37 L352.46,91.12 L352.95,94.02 L353.43,97.06 L353.92,100.22 L354.40,103.50 L354.89,106.88 L355.38,110.34 L355.86,113.87 L356.35,117.46 L356.84,121.10 L357.32,124.77 L357.81,128.47 L358.29,132.18 L358.78,135.90 L359.27,139.62 L359.75,143.33 L360.24,147.03 L360.73,150.72 L361.21,154.38 L361.70,158.03 L362.18,161.66 L362.67,165.27 L363.16,168.86 L363.64,172.43 L364.13,175.99 L364.61,179.54 L365.10,183.07 L365.59,186.60 L366.07,190.13 L366.56,193.65 L367.05,197.18 L367.53,200.71 L368.02,204.24 L368.50,207.78 L368.99,211.32 L369.48,214.86 L369.96,218.41 L370.45,221.96 L370.93,225.50 L371.42,229.04 L371.91,232.57 L372.39,236.09 L372.88,239.59 L373.37,243.06 L373.85,246.50 L374.34,249.91 L374.82,253.28 L375.31,256.60 L375.80,259.86 L376.28,263.07 L376.77,266.22 L377.25,269.29 L377.74,272.30 L378.23,275.22 L378.71,278.07 L379.20,280.83 L379.69,283.51 L380.17,286.10 L380.66,288.60 L381.14,291.01 L381.63,293.34 L382.12,295.58 L382.60,297.74 L383.09,299.81 L383.58,301.80 L384.06,303.72 L384.55,305.56 L385.03,307.34 L385.52,309.05 L386.01,310.71 L386.49,312.31 L386.98,313.86 L387.46,315.37 L387.95,316.84 L388.44,318.28 L388.92,319.68 L389.41,321.07 L389.90,322.43 L390.38,323.79 L390.87,325.13 L391.35,326.47 L391.84,327.80 L392.33,329.14 L392.81,330.48 L393.30,331.83 L393.78,333.19 L394.27,334.56 L394.76,335.94 L395.24,337.33 L395.73,338.75 L396.22,340.17 L396.70,341.61 L397.19,343.07 L397.67,344.54 L398.16,346.02 L398.65,347.52 L399.13,349.02 L399.62,350.54 L400.11,352.07 L400.59,353.60 L401.08,355.14 L401.56,356.68 L402.05,358.22 L402.54,359.76 L403.02,361.30 L403.51,362.83 L403.99,364.35 L404.48,365.86 L404.97,367.36 L405.45,368.85 L405.94,370.31 L406.43,371.76 L406.91,373.19 L407.40,374.59 L407.88,375.98 L408.37,377.33 L408.86,378.66 L409.34,379.95 L409.83,381.22 L410.31,382.46 L410.80,383.66 L411.29,384.83 L411.77,385.96 L412.26,387.07 L412.75,388.13 L413.23,389.16 L413.72,390.15 L414.20,391.11 L414.69,392.03 L415.18,392.92 L415.66,393.77 L416.15,394.58 L416.63,395.36 L417.12,396.10 L417.61,396.81 L418.09,397.49 L418.58,398.13 L419.07,398.74 L419.55,399.31 L420.04,399.86 L420.52,400.38 L421.01,400.86 L421.50,401.32 L421.98,401.75 L422.47,402.16 L422.96,402.54 L423.44,402.89 L423.93,403.23 L424.41,403.54 L424.90,403.82 L425.39,404.09 L425.87,404.34 L426.36,404.57 L426.84,404.78 L427.33,404.98 L427.82,405.15 L428.30,405.32 L428.79,405.47 L429.28,405.61 L429.76,405.74 L430.25,405.85 L430.73,405.95 L431.22,406.05 L431.71,406.13 L432.19,406.21 L432.68,406.28 L433.16,406.34 L433.65,406.40 L434.14,406.45 L434.62,406.49 L435.11,406.53 L435.60,406.57 L436.08,406.60 L436.57,406.63 L437.05,406.65 L437.54,406.67 L438.03,406.69 L438.51,406.71 L439.00,406.73 L439.48,406.75 L439.97,406.76 L440.46,406.78 L440.94,406.79 L441.43,406.80 L441.92,406.82 L442.40,406.83 L442.89,406.84 L443.37,406.86 L443.86,406.87 L444.35,406.89 L444.83,406.91 L445.32,406.92 L445.81,406.94 L446.29,406.96 L446.78,406.98 L447.26,407.00 L447.75,407.03 L448.24,407.05 L448.72,407.08 L449.21,407.10 L449.69,407.13 L450.18,407.16 L450.67,407.19 L451.15,407.22 L451.64,407.26 L452.13,407.29 L452.61,407.33 L453.10,407.36 L453.58,407.40 L454.07,407.44 L454.56,407.48 L455.04,407.52 L455.53,407.56 L456.01,407.61 L456.50,407.65 L456.99,407.70 L457.47,407.74 L457.96,407.79 L458.45,407.83 L458.93,407.88 L459.42,407.93 L459.90,407.98 L460.39,408.02 L460.88,408.07 L461.36,408.12 L461.85,408.18 L462.34,408.24 L462.82,408.30 L463.31,408.37 L463.79,408.45 L464.28,408.53 L464.77,408.61 L465.25,408.71 L465.74,408.81 L466.22,408.91 L466.71,409.03 L467.20,409.15 L467.68,409.28 L468.17,409.41 L468.66,409.55 L469.14,409.70 L469.63,409.85 L470.11,410.01 L470.60,410.17" fill="none" stroke="#000000" stroke-width="2.1" stroke-linejoin="round"/>
<line x1="320" y1="338.1" x2="320" y2="412" stroke="#add8e6" stroke-width="2.0"/>
<line x1="343.9" y1="338.1" x2="343.9" y2="412" stroke="#000" stroke-width="2.1"/>
<line x1="319" y1="375" x2="344.9" y2="375" stroke="#000" stroke-width="2.1"/>
</g>
<line x1="136.8" y1="410.4" x2="228" y2="410.4" stroke="rgb(126,22,54)" stroke-opacity="0.13" stroke-width="1"/>
<line x1="480.3" y1="410.4" x2="504.4" y2="410.4" stroke="rgb(126,22,54)" stroke-opacity="0.13" stroke-width="1"/>
<g>
<text x="217.90" y="373.00" font-size="17.50" textLength="230.10" lengthAdjust="spacingAndGlyphs">Observed Performance Gap</text>
<text x="154.17" y="435.10" font-size="16.04" textLength="27.85" lengthAdjust="spacingAndGlyphs">250</text>
<text x="213.37" y="435.10" font-size="16.04" textLength="27.85" lengthAdjust="spacingAndGlyphs">500</text>
<text x="272.57" y="435.10" font-size="16.04" textLength="27.85" lengthAdjust="spacingAndGlyphs">750</text>
<text x="327.33" y="435.10" font-size="16.04" textLength="36.75" lengthAdjust="spacingAndGlyphs">1000</text>
<text x="386.53" y="435.10" font-size="16.04" textLength="36.75" lengthAdjust="spacingAndGlyphs">1250</text>
<text x="445.73" y="435.10" font-size="16.04" textLength="36.75" lengthAdjust="spacingAndGlyphs">1500</text>
<text x="52.35" y="416.20" font-size="16.04" textLength="52.30" lengthAdjust="spacingAndGlyphs">0.0000</text>
<text x="52.35" y="365.10" font-size="16.04" textLength="52.30" lengthAdjust="spacingAndGlyphs">0.0005</text>
<text x="52.35" y="313.10" font-size="16.04" textLength="52.30" lengthAdjust="spacingAndGlyphs">0.0010</text>
<text x="52.35" y="262.10" font-size="16.04" textLength="52.30" lengthAdjust="spacingAndGlyphs">0.0015</text>
<text x="52.35" y="210.10" font-size="16.04" textLength="52.30" lengthAdjust="spacingAndGlyphs">0.0020</text>
<text x="52.35" y="158.10" font-size="16.04" textLength="52.30" lengthAdjust="spacingAndGlyphs">0.0025</text>
<text x="52.35" y="107.10" font-size="16.04" textLength="52.30" lengthAdjust="spacingAndGlyphs">0.0030</text>
<text x="218.10" y="457.50" font-size="17.50" textLength="203.80" lengthAdjust="spacingAndGlyphs">Simulated Performances</text>
<g transform="translate(43.3,264.6) rotate(-90)"><text x="0.00" y="0.00" font-size="17.50" textLength="61.50" lengthAdjust="spacingAndGlyphs">Density</text></g>
<rect x="-21.5" y="25.5" width="29.85" height="10.85" fill="#ffffff" stroke="#6a6a6a" stroke-width="1"/>
<text x="21.20" y="35.80" font-size="16.04" textLength="227.60" lengthAdjust="spacingAndGlyphs">CASI Simulated Performances</text>
<rect x="279.9" y="25.8" width="29.6" height="10.4" fill="rgb(190,135,148)" stroke="#c3d6e4" stroke-width="0.9"/>
<text x="322.30" y="35.80" font-size="16.04" textLength="339.00" lengthAdjust="spacingAndGlyphs">Atletico del Rosario Simulated Performances</text>
</g>
</svg></body></html>
